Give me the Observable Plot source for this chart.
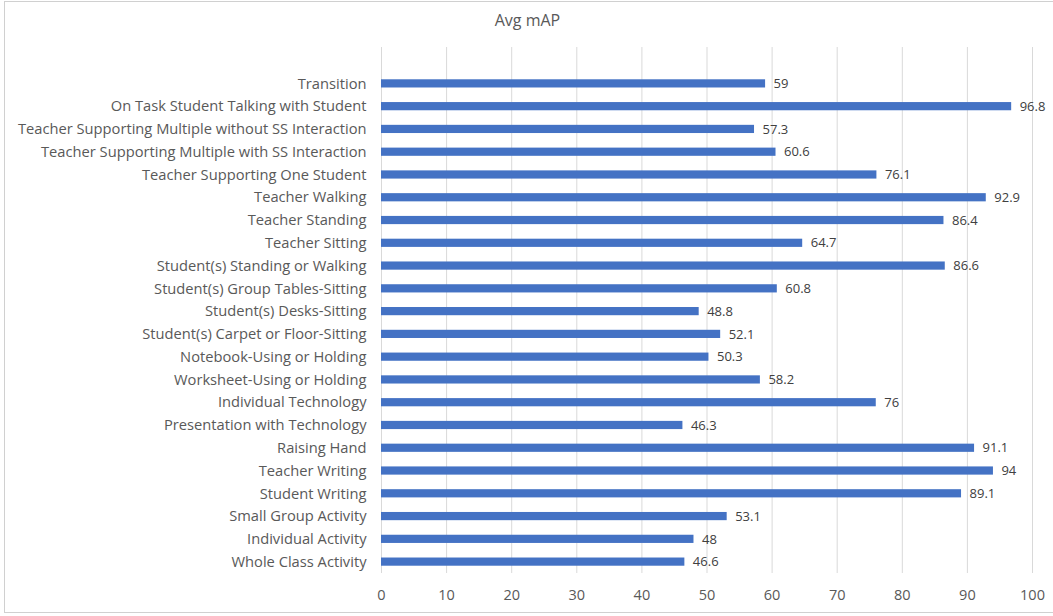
<!DOCTYPE html>
<html>
<head>
<meta charset="utf-8">
<script src="https://cdn.jsdelivr.net/npm/d3@7"></script>
<script src="https://cdn.jsdelivr.net/npm/@observablehq/plot@0.6"></script>
<style>
  body { margin: 0; background: #fff; }
  #wrap { position: relative; width: 1053px; height: 616px; overflow: hidden; font-family: "Open Sans", sans-serif; }
  #border { position: absolute; left: 4px; top: 1px; width: 1060px; height: 612px; border: 1px solid #d0d0d0; box-sizing: border-box; }
  #title { position: absolute; left: 1px; width: 1053px; top: 9px; text-align: center; font-size: 16px; color: #595959; }
  #chart { position: absolute; left: 0; top: 0; }
</style>
</head>
<body>
<div id="wrap">
  <div id="border"></div>
  <div id="chart"></div>
  <div id="title">Avg mAP</div>
</div>
<script>
const categories = [
  "Transition",
  "On Task Student Talking with Student",
  "Teacher Supporting Multiple without SS Interaction",
  "Teacher Supporting Multiple with SS Interaction",
  "Teacher Supporting One Student",
  "Teacher Walking",
  "Teacher Standing",
  "Teacher Sitting",
  "Student(s) Standing or Walking",
  "Student(s) Group Tables-Sitting",
  "Student(s) Desks-Sitting",
  "Student(s) Carpet or Floor-Sitting",
  "Notebook-Using or Holding",
  "Worksheet-Using or Holding",
  "Individual Technology",
  "Presentation with Technology",
  "Raising Hand",
  "Teacher Writing",
  "Student Writing",
  "Small Group Activity",
  "Individual Activity",
  "Whole Class Activity"
];
const values = [59, 96.8, 57.3, 60.6, 76.1, 92.9, 86.4, 64.7, 86.6, 60.8, 48.8, 52.1, 50.3, 58.2, 76, 46.3, 91.1, 94, 89.1, 53.1, 48, 46.6];
const xTicks = [0, 10, 20, 30, 40, 50, 60, 70, 80, 90, 100];

const data = categories.map((c, i) => ({category: c, value: values[i]}));

const chart = Plot.plot({
  width: 1053,
  height: 616,
  marginTop: 47,
  marginBottom: 43,
  marginLeft: 381,
  marginRight: 21,
  style: {fontFamily: "Open Sans, sans-serif", fontSize: "13px", color: "#595959", background: "transparent"},
  x: {domain: [0, 100], ticks: xTicks, label: null},
  y: {domain: categories, paddingInner: 0.64, paddingOuter: 0.32, insetTop: 25, round: false, label: null},
  marks: [
    Plot.gridX(xTicks, {stroke: "#d9d9d9", strokeOpacity: 1, strokeWidth: 1}),
    Plot.axisX({ticks: xTicks, tickSize: 0, tickPadding: 16, fontSize: 14.5, fill: "#595959", label: null}),
    Plot.axisY({tickSize: 0, tickPadding: 15, fontSize: 14.7, fill: "#595959", label: null}),
    Plot.barX(data, {x: "value", y: "category", fill: "#4472C4"}),
    Plot.text(data, {x: "value", y: "category", text: d => String(d.value), textAnchor: "start", dx: 8, fill: "#404040", fontSize: 13})
  ]
});
document.getElementById("chart").appendChild(chart);
</script>
</body>
</html>
